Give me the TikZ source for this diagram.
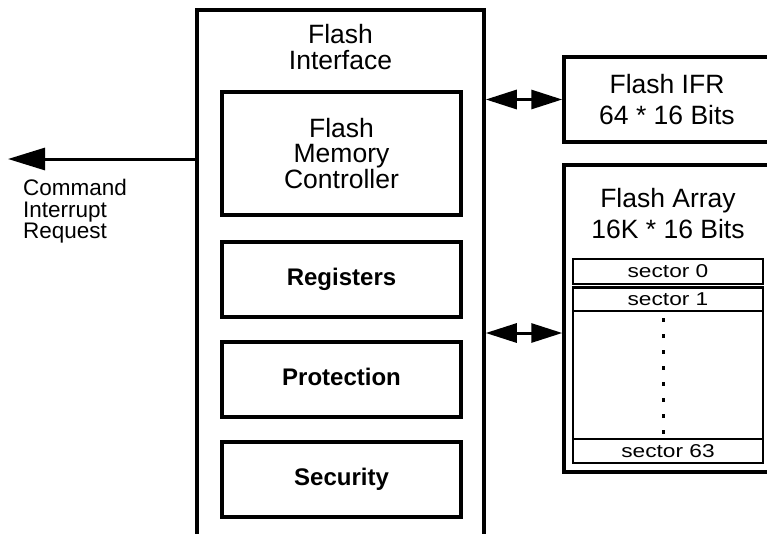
\documentclass[tikz,border=0pt]{standalone}
\usepackage{fontspec}
\setmainfont{Liberation Sans}
\newfontfamily\sectorfont[FakeStretch=1.22]{Liberation Sans}
\usetikzlibrary{arrows.meta}

\tikzset{
  blk/.style={draw, line width=3.5pt, inner sep=0pt, align=center},
  bigtxt/.style={font=\fontsize{26.5}{25.5}\selectfont},
  rtxt/.style={font=\fontsize{26.5}{31}\selectfont, align=center},
  boldtxt/.style={font=\fontsize{24}{26}\selectfont\bfseries, text height=17.2pt, text depth=5pt},
  unitbox/.style={blk, minimum width=239pt},
  sectorbox/.style={draw, line width=2.5pt, inner sep=0pt, minimum width=190pt,
    font=\sectorfont\fontsize{18.6}{20}\selectfont},
  bus/.style={line width=3pt, {Triangle[length=31pt,width=19pt]}-{Triangle[length=31pt,width=19pt]}},
  dotline/.style={line width=3pt, dash pattern=on 4pt off 12pt},
}

\begin{document}
\begin{tikzpicture}[x=1pt,y=-1pt]
  \useasboundingbox (0,0) rectangle (767,533);
  \clip (0,0) rectangle (767,533);
  % interface block, open at the bottom edge
  \node[blk, minimum width=287pt, minimum height=535pt] (iface) at (340.5,277.5) {};
  \node[bigtxt, align=center, inner sep=0pt] (ifacetxt) at (340.5,47) {Flash\\Interface};
  \node[unitbox, bigtxt, minimum height=123pt] (fmc) at (341.5,153.5) {Flash\\Memory\\Controller};
  \node[unitbox, boldtxt, minimum height=75pt] (regs) at (341.5,279.5) {Registers};
  \node[unitbox, boldtxt, minimum height=75pt] (prot) at (341.5,379.5) {Protection};
  \node[unitbox, boldtxt, minimum height=75pt] (secu) at (341.5,479.5) {Security};
  % interrupt output
  \coordinate (irq) at (8,159);
  \draw[line width=3pt, -{Triangle[length=37pt,width=22pt]}] (iface.west |- irq) -- (irq);
  \node[anchor=north west, inner sep=0pt, align=left, font=\fontsize{22.5}{21.5}\selectfont]
    (irqtxt) at (23,179.3) {Command\\Interrupt\\Request};
  % flash memories (cut by the right edge)
  \node[blk, rtxt, minimum width=206pt, minimum height=85pt] (ifr) at (667,99.5) {Flash IFR\\64 * 16 Bits};
  \node[blk, minimum width=206pt, minimum height=307pt] (arr) at (667,318.5) {};
  \node[rtxt, inner sep=0pt] (arrtxt) at (668,213.3) {Flash Array\\16K * 16 Bits};
  \node[sectorbox, minimum height=25pt] (sec0) at (668,271.5) {sector 0};
  \node[sectorbox, minimum height=23.5pt] (sec1) at (668,299.25) {sector 1};
  \node[sectorbox, minimum height=128pt] (secmid) at (668,375) {};
  \node[sectorbox, minimum height=24pt] (sec63) at (668,451) {sector 63};
  \draw[dotline] ([xshift=-5pt,yshift=-8.5pt]secmid.north) -- ([xshift=-5pt,yshift=6.5pt]secmid.south);
  % buses
  \coordinate (arrport) at ([yshift=-14.5pt]arr.west);
  \draw[bus] (iface.east |- ifr.west) -- (ifr.west);
  \draw[bus] (iface.east |- arrport) -- (arrport);
\end{tikzpicture}
\end{document}
